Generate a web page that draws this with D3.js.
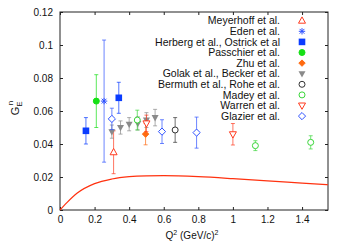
<!DOCTYPE html>
<html>
<head>
<meta charset="utf-8">
<script src="https://cdn.jsdelivr.net/npm/d3@7"></script>
<style>
  body { margin: 0; background: #fff; }
  svg { font-family: "Liberation Sans", Arial, sans-serif; }
</style>
</head>
<body>
<div id="chart"></div>
<script>
// [Q2, GEn, error]
var meyerhoff = [[0.31, 0.035, 0.013]];
var eden = [[0.255, 0.066, 0.037]];
var herberg = [[0.15, 0.048, 0.008], [0.34, 0.068, 0.0094]];
var passchier = [[0.21, 0.066, 0.016]];
var zhu = [[0.495, 0.046, 0.0065]];
var golak = [[0.30, 0.0475, 0.004], [0.35, 0.050, 0.004], [0.40, 0.052, 0.004],
             [0.45, 0.0525, 0.004], [0.50, 0.0545, 0.0045], [0.55, 0.056, 0.005]];
var bermuth = [[0.666, 0.0485, 0.0075]];
var madey = [[0.447, 0.0545, 0.006], [1.13, 0.039, 0.003], [1.45, 0.041, 0.004]];
var warren = [[0.50, 0.0525, 0.005], [1.0, 0.0459, 0.0065]];
var glazier = [[0.30, 0.0552, 0.0065], [0.59, 0.0475, 0.0072], [0.79, 0.0469, 0.0094]];

// theory curve
var curveQ2 = [0, 0.04, 0.1, 0.2, 0.3, 0.4, 0.5, 0.6, 0.8, 1.0, 1.2, 1.4, 1.55];
var curveG = [0, 0.0045, 0.0103, 0.016, 0.0188, 0.0202, 0.0207, 0.0208, 0.0202, 0.019, 0.0176, 0.0163, 0.0153];

var xTicks = [0, 0.2, 0.4, 0.6, 0.8, 1, 1.2, 1.4];
var yTicks = [0, 0.02, 0.04, 0.06, 0.08, 0.1, 0.12];

var series = [
  {name: "Meyerhoff et al.", data: meyerhoff, sym: "triUp", color: "#ff3b1f", fill: false},
  {name: "Eden et al.", data: eden, sym: "star", color: "#2f52ff", fill: false},
  {name: "Herberg et al., Ostrick et al", data: herberg, sym: "square", color: "#0a3cff", fill: true},
  {name: "Passchier et al.", data: passchier, sym: "circle", color: "#16e016", fill: true},
  {name: "Zhu et al.", data: zhu, sym: "diamond", color: "#ff6a10", fill: true},
  {name: "Golak et al., Becker et al.", data: golak, sym: "triDown", color: "#8a8a8a", fill: true},
  {name: "Bermuth et al., Rohe et al.", data: bermuth, sym: "circle", color: "#333333", fill: false},
  {name: "Madey et al.", data: madey, sym: "circle", color: "#3ad63a", fill: false},
  {name: "Warren et al.", data: warren, sym: "triDown", color: "#ff3b1f", fill: false},
  {name: "Glazier et al.", data: glazier, sym: "diamond", color: "#2f52ff", fill: false}
];

var width = 346, height = 242;
var m = {left: 60, right: 18, top: 12, bottom: 32};

var svg = d3.select("#chart").append("svg")
  .attr("width", width).attr("height", height);

var x = d3.scaleLinear().domain([0, 1.55]).range([m.left, width - m.right]);
var y = d3.scaleLinear().domain([0, 0.12]).range([height - m.bottom, m.top]);

// frame
svg.append("rect")
  .attr("x", x(0)).attr("y", y(0.12))
  .attr("width", x(1.55) - x(0)).attr("height", y(0) - y(0.12))
  .attr("fill", "none").attr("stroke", "#222").attr("stroke-width", 1);

// axes with inward ticks
var tk = 3;
svg.append("g").attr("transform", "translate(0," + y(0) + ")")
  .call(d3.axisBottom(x).tickValues(xTicks).tickSize(-tk).tickPadding(6)
    .tickFormat(function(d){ return d3.format("")(d); }))
  .call(function(g){ g.select(".domain").remove(); });
svg.append("g").attr("transform", "translate(0," + y(0.12) + ")")
  .call(d3.axisTop(x).tickValues(xTicks).tickSize(-tk).tickFormat(""))
  .call(function(g){ g.select(".domain").remove(); });
svg.append("g").attr("transform", "translate(" + x(0) + ",0)")
  .call(d3.axisLeft(y).tickValues(yTicks).tickSize(-tk).tickPadding(7)
    .tickFormat(function(d){ return d3.format("")(d); }))
  .call(function(g){ g.select(".domain").remove(); });
svg.append("g").attr("transform", "translate(" + x(1.55) + ",0)")
  .call(d3.axisRight(y).tickValues(yTicks).tickSize(-tk).tickFormat(""))
  .call(function(g){ g.select(".domain").remove(); });

svg.selectAll(".tick text").attr("font-size", 10).attr("fill", "#111")
  .attr("font-family", "Liberation Sans, Arial, sans-serif");
svg.selectAll(".tick line").attr("stroke", "#222");

// axis labels
var yl = svg.append("text")
  .attr("transform", "translate(19," + 108 + ") rotate(-90)")
  .attr("text-anchor", "middle").attr("font-size", 11).attr("fill", "#111");
yl.append("tspan").text("G");
yl.append("tspan").attr("font-size", 8).attr("dy", 3).text("E");
yl.append("tspan").attr("font-size", 8).attr("dy", -9).attr("dx", -4).text("n");

var xl = svg.append("text")
  .attr("x", 192).attr("y", 239)
  .attr("text-anchor", "middle").attr("font-size", 10).attr("fill", "#111");
xl.append("tspan").text("Q");
xl.append("tspan").attr("font-size", 7).attr("dy", -4).text("2");
xl.append("tspan").attr("dy", 4).text("  (GeV/c)");
xl.append("tspan").attr("font-size", 7).attr("dy", -4).text("2");

// theory curve
var line = d3.line()
  .x(function(d, i){ return x(curveQ2[i]); })
  .y(function(d){ return y(d); })
  .curve(d3.curveMonotoneX);
svg.append("path").datum(curveG)
  .attr("d", line)
  .attr("fill", "none").attr("stroke", "#ff3210").attr("stroke-width", 1.2);

function drawSymbol(g, s, cx, cy) {
  var r = 3;
  var st = s.color, fl = s.fill ? s.color : "none";
  if (s.sym === "circle") {
    g.append("circle").attr("cx", cx).attr("cy", cy).attr("r", r)
      .attr("fill", s.fill ? fl : "#fff").attr("stroke", st).attr("stroke-width", 1);
  } else if (s.sym === "square") {
    g.append("rect").attr("x", cx - 3.3).attr("y", cy - 3.3)
      .attr("width", 6.6).attr("height", 6.6).attr("fill", fl);
  } else if (s.sym === "triUp") {
    g.append("path").attr("d", "M" + cx + "," + (cy - 3.8) + "L" + (cx + 3.5) + "," + (cy + 2.5) + "L" + (cx - 3.5) + "," + (cy + 2.5) + "Z")
      .attr("fill", s.fill ? fl : "#fff").attr("stroke", st);
  } else if (s.sym === "triDown") {
    g.append("path").attr("d", "M" + cx + "," + (cy + 3.8) + "L" + (cx + 3.5) + "," + (cy - 2.5) + "L" + (cx - 3.5) + "," + (cy - 2.5) + "Z")
      .attr("fill", s.fill ? fl : "#fff").attr("stroke", s.fill ? "none" : st);
  } else if (s.sym === "diamond") {
    var d = s.fill ? 3.2 : 3.6;
    g.append("path").attr("d", "M" + cx + "," + (cy - d) + "L" + (cx + d) + "," + cy + "L" + cx + "," + (cy + d) + "L" + (cx - d) + "," + cy + "Z")
      .attr("fill", s.fill ? fl : "#fff").attr("stroke", st);
  } else if (s.sym === "star") {
    var a = 3.2;
    g.append("path").attr("d",
      "M" + (cx - a) + "," + cy + "H" + (cx + a) +
      "M" + cx + "," + (cy - a) + "V" + (cy + a) +
      "M" + (cx - a * 0.75) + "," + (cy - a * 0.75) + "L" + (cx + a * 0.75) + "," + (cy + a * 0.75) +
      "M" + (cx - a * 0.75) + "," + (cy + a * 0.75) + "L" + (cx + a * 0.75) + "," + (cy - a * 0.75))
      .attr("stroke", st).attr("stroke-width", 1);
  }
}

// data points with error bars
series.forEach(function(s) {
  var g = svg.append("g");
  s.data.forEach(function(p) {
    var cx = x(p[0]), cy = y(p[1]);
    var eb = g.append("g").attr("stroke", s.color).attr("stroke-opacity", 0.7).attr("stroke-width", 1);
    eb.append("line").attr("x1", cx).attr("x2", cx).attr("y1", y(p[1] - p[2])).attr("y2", y(p[1] + p[2]));
    eb.append("line").attr("x1", cx - 2).attr("x2", cx + 2).attr("y1", y(p[1] - p[2])).attr("y2", y(p[1] - p[2]));
    eb.append("line").attr("x1", cx - 2).attr("x2", cx + 2).attr("y1", y(p[1] + p[2])).attr("y2", y(p[1] + p[2]));
    drawSymbol(g, s, cx, cy);
  });
});

// legend
var lg = svg.append("g");
series.forEach(function(s, i) {
  var ly = 20.7 + i * 10.6;
  lg.append("text").attr("x", 280).attr("y", ly + 3.6)
    .attr("text-anchor", "end").attr("font-size", 10.5).attr("fill", "#111")
    .text(s.name);
  drawSymbol(lg, s, 302, ly);
});
</script>
</body>
</html>
